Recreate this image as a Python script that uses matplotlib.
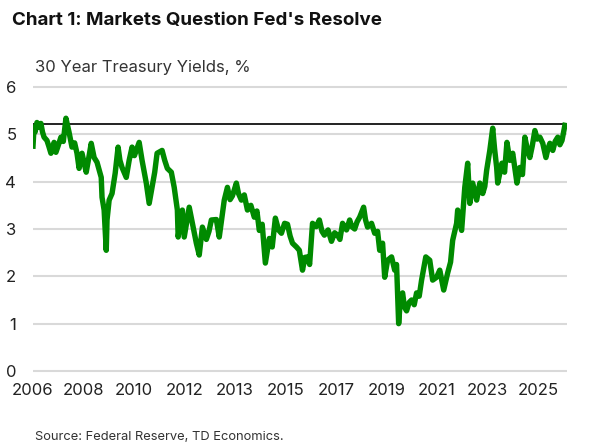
import numpy as np
import matplotlib
matplotlib.use('Agg')
import matplotlib.pyplot as plt

plt.rcParams['font.family'] = ['Inter', 'DejaVu Sans']

# 30 year treasury yield (decimal year, %)
years = [2006.00, 2006.04, 2006.08, 2006.15, 2006.22, 2006.30, 2006.36, 2006.42, 2006.53,
         2006.60, 2006.68, 2006.80, 2006.87, 2006.95, 2007.06, 2007.15, 2007.25, 2007.37,
         2007.48, 2007.58, 2007.67, 2007.75, 2007.86, 2008.02, 2008.10, 2008.21, 2008.32,
         2008.43, 2008.59, 2008.62, 2008.70, 2008.78, 2008.81, 2008.89, 2009.00, 2009.12,
         2009.23, 2009.30, 2009.38, 2009.54, 2009.65, 2009.76, 2009.85, 2009.92, 2010.03,
         2010.14, 2010.30, 2010.41, 2010.52, 2010.62, 2010.71, 2010.90, 2011.00, 2011.10,
         2011.25, 2011.36, 2011.48, 2011.51, 2011.60, 2011.67, 2011.74, 2011.85, 2011.93,
         2012.05, 2012.20, 2012.31, 2012.43, 2012.58, 2012.68, 2012.77, 2012.96, 2013.07,
         2013.26, 2013.38, 2013.48, 2013.57, 2013.72, 2013.80, 2013.91, 2014.02, 2014.14,
         2014.27, 2014.40, 2014.50, 2014.59, 2014.70, 2014.82, 2014.97, 2015.08, 2015.20,
         2015.32, 2015.43, 2015.55, 2015.66, 2015.76, 2015.85, 2016.00, 2016.11, 2016.23,
         2016.32, 2016.42, 2016.50, 2016.61, 2016.75, 2016.87, 2016.97, 2017.06, 2017.20,
         2017.33, 2017.45, 2017.56, 2017.65, 2017.75, 2017.90, 2018.02, 2018.10, 2018.21,
         2018.30, 2018.40, 2018.55, 2018.62, 2018.70, 2018.85, 2018.97, 2019.08, 2019.16,
         2019.27, 2019.35, 2019.46, 2019.61, 2019.73, 2019.80, 2019.88, 2019.95, 2020.03,
         2020.10, 2020.18, 2020.28, 2020.37, 2020.47, 2020.56, 2020.66, 2020.75, 2020.91,
         2021.06, 2021.17, 2021.32, 2021.44, 2021.59, 2021.74, 2021.85, 2021.93, 2022.08,
         2022.12, 2022.27, 2022.39, 2022.50, 2022.58, 2022.69, 2022.84, 2022.96, 2023.07,
         2023.15, 2023.22, 2023.34, 2023.45, 2023.52, 2023.60, 2023.64, 2023.80, 2023.90,
         2023.99, 2024.10, 2024.21, 2024.37, 2024.48, 2024.58, 2024.67, 2024.76, 2024.86,
         2024.95, 2025.05, 2025.14, 2025.24, 2025.35, 2025.47, 2025.55, 2025.62, 2025.73,
         2025.82, 2025.92, 2026.00, 2026.08, 2026.14, 2026.19]
yields = [4.75, 5.15, 5.05, 5.25, 5.15, 5.23, 5.05, 4.94, 4.87,
          4.75, 4.60, 4.83, 4.62, 4.75, 4.94, 4.85, 5.34, 5.04,
          4.73, 4.82, 4.60, 4.28, 4.60, 4.20, 4.45, 4.81, 4.51,
          4.41, 4.09, 3.67, 3.40, 2.55, 3.19, 3.61, 3.75, 4.18,
          4.73, 4.45, 4.30, 4.09, 4.45, 4.73, 4.55, 4.66, 4.83,
          4.45, 3.97, 3.54, 3.88, 4.20, 4.60, 4.66, 4.45, 4.28,
          4.20, 3.88, 3.40, 2.83, 3.20, 3.40, 2.83, 3.20, 3.46,
          3.12, 2.70, 2.45, 3.04, 2.78, 2.95, 3.19, 3.20, 2.83,
          3.61, 3.88, 3.62, 3.70, 3.97, 3.75, 3.61, 3.72, 3.40,
          3.50, 3.25, 3.38, 2.97, 3.10, 2.28, 2.80, 2.62, 3.23,
          2.98, 2.91, 3.12, 3.10, 2.85, 2.70, 2.62, 2.55, 2.13,
          2.40, 2.41, 2.25, 3.12, 3.05, 3.19, 2.95, 2.87, 2.98,
          2.74, 2.92, 2.87, 2.78, 3.12, 2.98, 3.19, 3.05, 3.00,
          3.15, 3.25, 3.46, 3.20, 3.04, 3.12, 2.91, 2.95, 2.55,
          2.70, 1.98, 2.34, 2.41, 2.13, 2.25, 1.00, 1.55, 1.65,
          1.35, 1.27, 1.45, 1.50, 1.40, 1.65, 1.58, 1.92, 2.41,
          2.34, 1.92, 1.98, 2.13, 1.71, 2.07, 2.30, 2.76, 3.12,
          3.40, 2.97, 3.88, 4.39, 3.54, 3.97, 3.61, 3.97, 3.75,
          3.90, 4.24, 4.66, 5.13, 4.70, 4.30, 3.97, 4.39, 4.20,
          4.83, 4.45, 4.60, 3.97, 4.30, 4.15, 4.94, 4.70, 4.51,
          4.75, 5.08, 4.90, 4.94, 4.81, 4.51, 4.70, 4.81, 4.66,
          4.85, 4.94, 4.78, 4.87, 5.05, 5.19]
latest = 5.22

tick_labels = ['2006', '2008', '2010', '2012', '2013', '2015',
               '2017', '2019', '2021', '2023', '2025']

fig = plt.figure(figsize=(6, 4.48), dpi=100)
ax = fig.add_axes([0.055, 0.1666, 0.89, 0.6445])

# gridlines
for v in range(0, 7):
    ax.axhline(v, color='#d9d9d9', lw=1.5, zorder=1)

ax.plot(years, yields, color='#008a00', lw=3.9, solid_joinstyle='round', zorder=3)
ax.plot([years[0], years[-1]], [latest, latest], color='#222222', lw=1.4, zorder=2)

ax.set_xlim(2006, 2026.27)
ax.set_ylim(-0.05, 6.05)
ax.set_yticks(range(0, 7))
ax.set_yticklabels([str(v) for v in range(0, 7)])
ax.set_xticks(np.linspace(2006, 2006 + 10 * 1.9165, 11))
ax.set_xticklabels(tick_labels)
ax.tick_params(length=0, labelsize=12, labelcolor='#222222')
ax.tick_params(axis='y', pad=12)
ax.tick_params(axis='x', pad=7)
for s in ax.spines.values():
    s.set_visible(False)

fig.text(0.02, 0.955, "Chart 1: Markets Question Fed's Resolve", fontsize=13.5,
         fontweight='bold', color='#111111', va='center')
fig.text(0.058, 0.85, '30 Year Treasury Yields, %', fontsize=12,
         color='#333333', va='center')
fig.text(0.058, 0.025, 'Source: Federal Reserve, TD Economics.', fontsize=9.3,
         color='#333333', va='center')

fig.savefig('out.png', dpi=100)
